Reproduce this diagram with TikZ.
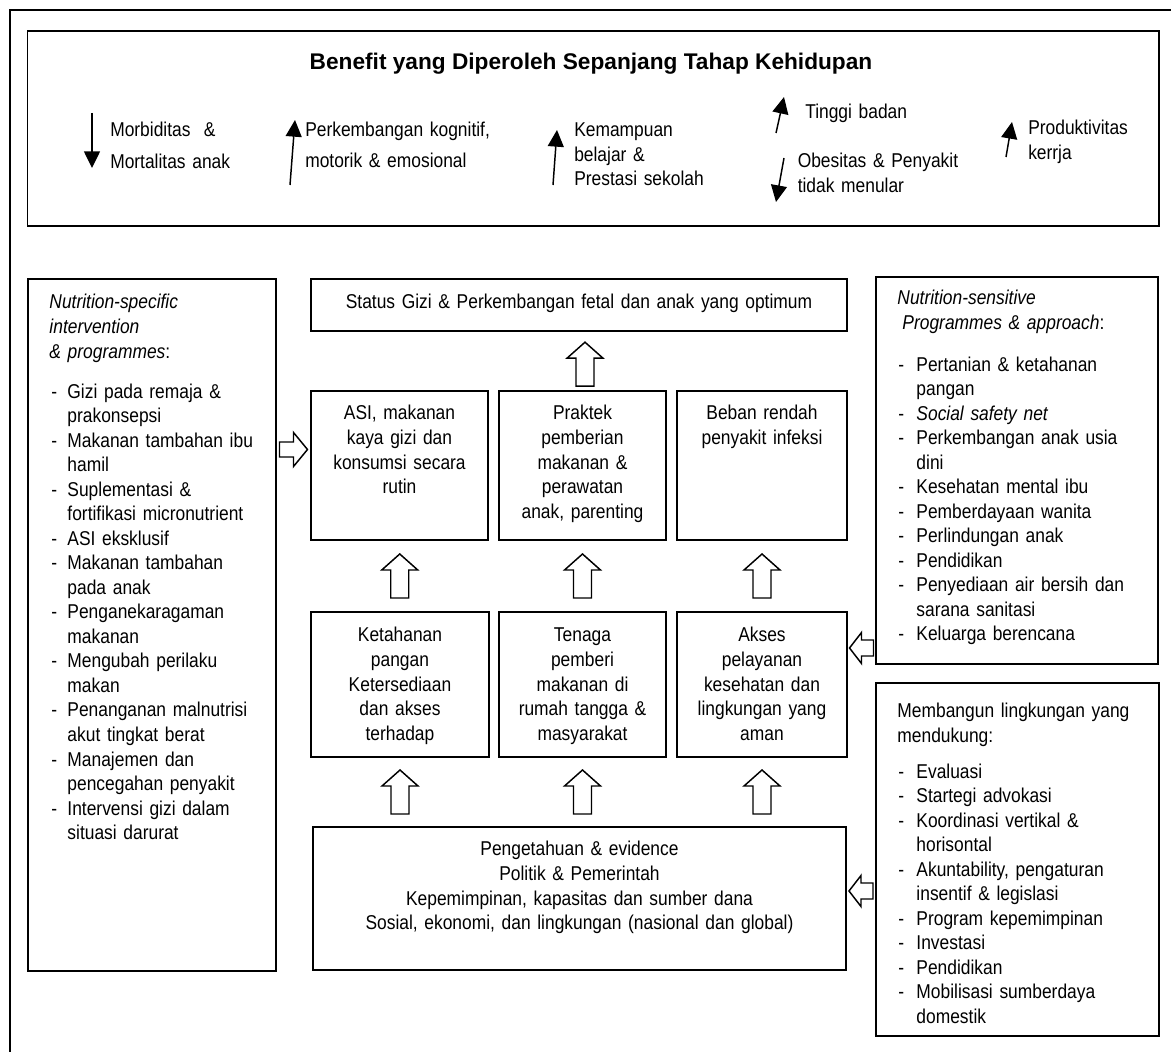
\documentclass[tikz,border=0pt]{standalone}
\usepackage{fontspec}
\setmainfont{Liberation Sans}[FakeStretch=0.87]
\newfontfamily\headfont{Liberation Sans}
\usetikzlibrary{arrows.meta,calc,fit}
% list helpers: dash column and continuation indent
\newcommand\dashitem{\makebox[13.5pt][l]{\hspace{1.5pt}-}}
\newcommand\contline{\hspace*{13.5pt}}
\newcommand\dashitemr{\makebox[14.25pt][l]{\hspace{0.75pt}-}}
\newcommand\contliner{\hspace*{14.25pt}}
\tikzset{
  blk/.style={draw,fill=white,line width=1.1pt,line join=miter},
  uparr/.pic={\draw[blk] (0,-22) -- (18,-6) -- (9,-6) -- (9,22) -- (-9,22) -- (-9,-6) -- (-18,-6) -- cycle;},
  rarr/.pic={\draw[blk] (14,0) -- (0,-17) -- (0,-7.5) -- (-14,-7.5) -- (-14,7.5) -- (0,7.5) -- (0,17) -- cycle;},
  larr/.pic={\draw[blk] (-12,0) -- (0,-15.5) -- (0,-8) -- (12,-8) -- (12,8) -- (0,8) -- (0,15.5) -- cycle;}
}
\begin{document}
\begin{tikzpicture}[x=0.75pt,y=-0.75pt,
  frame/.style={line width=1.3pt},
  box/.style={draw,line width=1.2pt,inner sep=0pt},
  txt/.style={inner sep=0pt,font=\fontsize{15pt}{18.4pt}\selectfont,execute at begin node=\strut},
  ltxt/.style={txt,text width=210pt,align=left,anchor=north west},
  ctxt/.style={txt,text width=300pt,align=center,anchor=north},
  thinarrow/.style={line width=1.1pt,-{Triangle[width=12pt,length=12.5pt]}}
]
\useasboundingbox (0,0) rectangle (1171,1052);

% outer frame (runs off the page at right and bottom)
\draw[frame] (10,1052) -- (10,10) -- (1171,10);

% ---------- benefits over the life course ----------
\node[box,fit={(27.5,31) (1159,226)}] (benefit) {};
\node[font=\headfont\fontsize{17pt}{20pt}\selectfont\bfseries,inner sep=0pt] (title) at (591,64)
  {Benefit yang Diperoleh Sepanjang Tahap Kehidupan};

\coordinate (a1s) at (92,113);   \coordinate (a1e) at (92,168);
\coordinate (a2s) at (290,185);  \coordinate (a2e) at (295,120);
\coordinate (a3s) at (553,185);  \coordinate (a3e) at (557,130);
\coordinate (a4s) at (776,133);  \coordinate (a4e) at (784,97);
\coordinate (a5s) at (784,158);  \coordinate (a5e) at (776,202);
\coordinate (a6s) at (1006,157); \coordinate (a6e) at (1012,122);
\foreach \i in {1,...,6} \draw[thinarrow] (a\i s) -- (a\i e);

\node[ltxt] (b1) at (110,119.3) {Morbiditas\ \ \&\\[5.6pt]Mortalitas anak};
\node[ltxt] (b2) at (305,119.3) {Perkembangan kognitif,\\[4.9pt]motorik \& emosional};
\node[ltxt] (b3) at (574,119.3) {Kemampuan\\belajar \&\\Prestasi sekolah};
\node[ltxt] (b4) at (805,101.3) {Tinggi badan};
\node[ltxt] (b5) at (797.5,150.3) {Obesitas \& Penyakit\\tidak menular};
\node[ltxt] (b6) at (1028,117.3) {Produktivitas\\kerrja};

% ---------- framework boxes ----------
\node[box,fit={(28,279) (276,971)}] (spec) {};
\node[box,fit={(311,279) (847,331)}] (status) {};
\node[box,fit={(311,391) (488,540)}] (asi) {};
\node[box,fit={(499,391) (666,540)}] (praktek) {};
\node[box,fit={(677,391) (847,540)}] (beban) {};
\node[box,fit={(311,612) (489,757)}] (pangan) {};
\node[box,fit={(499,612) (666,757)}] (tenaga) {};
\node[box,fit={(677,612) (847,757)}] (akses) {};
\node[box,fit={(313,827) (846,970)}] (basis) {};
\node[box,fit={(876,277) (1158,664)}] (sens) {};
\node[box,fit={(876,683) (1159,1036)}] (env) {};

% ---------- box texts ----------
\node[ctxt,text width=390pt] at ($(status.north)+(0,13.3)$)
  {Status Gizi \& Perkembangan fetal dan anak yang optimum};
\node[ctxt] at ($(asi.north)+(0,12.3)$) {ASI, makanan\\kaya gizi dan\\konsumsi secara\\rutin};
\node[ctxt] at ($(praktek.north)+(0,12.3)$) {Praktek\\pemberian\\makanan \&\\perawatan\\anak, parenting};
\node[ctxt] at ($(beban.north)+(0,12.3)$) {Beban rendah\\penyakit infeksi};
\node[ctxt] at ($(pangan.north)+(0,13.3)$) {Ketahanan\\pangan\\Ketersediaan\\dan akses\\terhadap};
\node[ctxt] at ($(tenaga.north)+(0,13.3)$) {Tenaga\\pemberi\\makanan di\\rumah tangga \&\\masyarakat};
\node[ctxt] at ($(akses.north)+(0,13.3)$) {Akses\\pelayanan\\kesehatan dan\\lingkungan yang\\aman};
\node[ctxt,text width=380pt] at ($(basis.north)+(0,12.3)$)
  {Pengetahuan \& evidence\\Politik \& Pemerintah\\Kepemimpinan, kapasitas dan sumber dana\\Sosial, ekonomi, dan lingkungan (nasional dan global)};

\node[ltxt] at ($(spec.north west)+(22,13.3)$) {%
\textit{Nutrition-specific}\\
\textit{intervention}\\
\textit{\& programmes}:\\[11.6pt]
\dashitem Gizi pada remaja \&\\
\contline prakonsepsi\\
\dashitem Makanan tambahan ibu\\
\contline hamil\\
\dashitem Suplementasi \&\\
\contline fortifikasi micronutrient\\
\dashitem ASI eksklusif\\
\dashitem Makanan tambahan\\
\contline pada anak\\
\dashitem Penganekaragaman\\
\contline makanan\\
\dashitem Mengubah perilaku\\
\contline makan\\
\dashitem Penanganan malnutrisi\\
\contline akut tingkat berat\\
\dashitem Manajemen dan\\
\contline pencegahan penyakit\\
\dashitem Intervensi gizi dalam\\
\contline situasi darurat};

\node[ltxt] at ($(sens.north west)+(22,11.3)$) {%
\textit{Nutrition-sensitive}\\
\hspace*{3.75pt}\textit{Programmes \& approach}:\\[12.8pt]
\dashitemr Pertanian \& ketahanan\\
\contliner pangan\\
\dashitemr \textit{Social safety net}\\
\dashitemr Perkembangan anak usia\\
\contliner dini\\
\dashitemr Kesehatan mental ibu\\
\dashitemr Pemberdayaan wanita\\
\dashitemr Perlindungan anak\\
\dashitemr Pendidikan\\
\dashitemr Penyediaan air bersih dan\\
\contliner sarana sanitasi\\
\dashitemr Keluarga berencana};

\node[ltxt] at ($(env.north west)+(22,18.3)$) {%
Membangun lingkungan yang\\
mendukung:\\[8.3pt]
\dashitemr Evaluasi\\
\dashitemr Startegi advokasi\\
\dashitemr Koordinasi vertikal \&\\
\contliner horisontal\\
\dashitemr Akuntability, pengaturan\\
\contliner insentif \& legislasi\\
\dashitemr Program kepemimpinan\\
\dashitemr Investasi\\
\dashitemr Pendidikan\\
\dashitemr Mobilisasi sumberdaya\\
\contliner domestik};

% ---------- block arrows ----------
\path ($(praktek.north)+(2.5,-26)$) pic {uparr};
\path ($(pangan.north)!0.5!(asi.south)$) pic {uparr};
\path ($(tenaga.north)!0.5!(praktek.south)$) pic {uparr};
\path ($(akses.north)!0.5!(beban.south)$) pic {uparr};
\path ($(basis.north -| pangan.south)!0.5!(pangan.south)$) pic {uparr};
\path ($(basis.north -| tenaga.south)!0.5!(tenaga.south)$) pic {uparr};
\path ($(basis.north -| akses.south)!0.5!(akses.south)$) pic {uparr};
\path ($(spec.east |- 0,449.5)!0.5!(asi.west |- 0,449.5)$) pic {rarr};
\path ($(akses.east |- 0,648)!0.5!(sens.west |- 0,648)$) pic {larr};
\path ($(basis.east |- 0,891)!0.5!(env.west |- 0,891)$) pic {larr};
\end{tikzpicture}
\end{document}
